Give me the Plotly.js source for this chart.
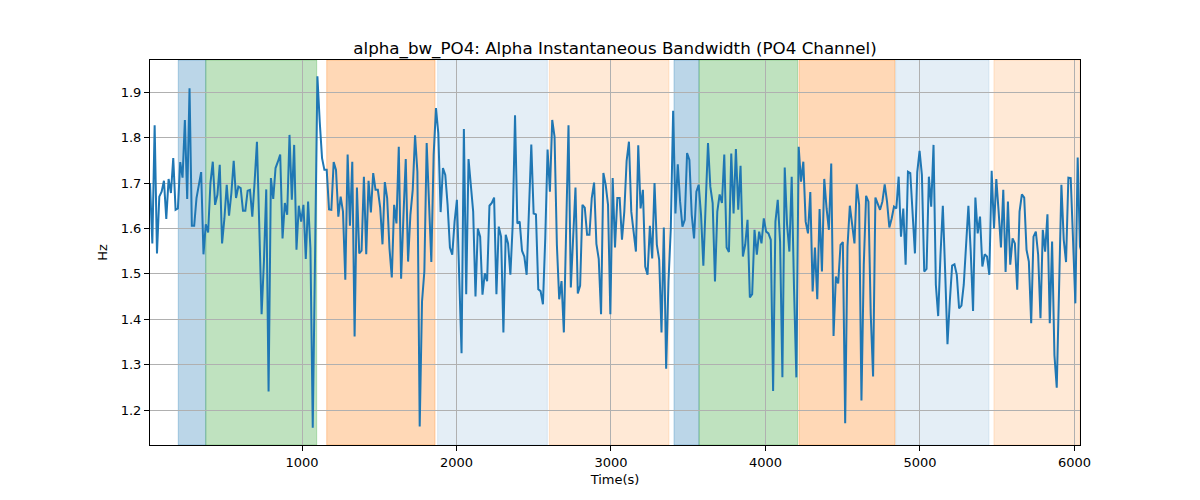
<!DOCTYPE html>
<html>
<head>
<meta charset="utf-8">
<script src="https://cdn.plot.ly/plotly-3.0.1.min.js"></script>
<style>
  html, body { margin: 0; padding: 0; background: #ffffff; }
  #plot { width: 1200px; height: 500px; }
</style>
</head>
<body>
<div id="plot"></div>
<script>
// sampling of the signal (seconds)
const SAMPLE_START = 16;
const SAMPLE_STEP = 15.05;

// alpha instantaneous bandwidth, Hz
const bandwidth = [
  1.700, 1.567, 1.827, 1.545, 1.670, 1.681, 1.705, 1.621, 1.709, 1.678,
  1.755, 1.641, 1.644, 1.746, 1.712, 1.839, 1.665, 1.909, 1.606, 1.606,
  1.667, 1.696, 1.724, 1.543, 1.609, 1.591, 1.700, 1.747, 1.652, 1.674,
  1.740, 1.567, 1.622, 1.696, 1.628, 1.678, 1.749, 1.667, 1.692, 1.689,
  1.639, 1.639, 1.683, 1.685, 1.626, 1.703, 1.791, 1.604, 1.411, 1.527,
  1.686, 1.241, 1.711, 1.665, 1.733, 1.747, 1.763, 1.578, 1.656, 1.630,
  1.806, 1.663, 1.784, 1.553, 1.650, 1.615,
  1.652, 1.533, 1.659, 1.556, 1.161, 1.542, 1.935, 1.835, 1.755, 1.729,
  1.729, 1.642, 1.641, 1.746, 1.729, 1.626, 1.670, 1.637, 1.487, 1.763,
  1.606, 1.747, 1.362, 1.690, 1.545, 1.551, 1.714, 1.543, 1.705, 1.635,
  1.722, 1.685, 1.685, 1.646, 1.565, 1.702, 1.667, 1.556, 1.492, 1.652,
  1.611, 1.780, 1.489, 1.626, 1.753, 1.527, 1.630, 1.685, 1.805, 1.725,
  1.164, 1.439, 1.505, 1.788, 1.652, 1.526, 1.762, 1.865, 1.810, 1.636,
  1.733, 1.718, 1.652, 1.558, 1.542, 1.615, 1.663, 1.512, 1.325, 1.819,
  1.455, 1.753,
  1.700, 1.637, 1.450, 1.600, 1.582, 1.454, 1.501, 1.484, 1.650, 1.656,
  1.668, 1.455, 1.604, 1.582, 1.371, 1.586, 1.567, 1.498, 1.608, 1.849,
  1.611, 1.615, 1.551, 1.538, 1.498, 1.637, 1.785, 1.633, 1.631, 1.466,
  1.462, 1.433, 1.578, 1.774, 1.681, 1.839, 1.802, 1.564, 1.444, 1.484,
  1.371, 1.600, 1.827, 1.470, 1.593, 1.690, 1.457, 1.474, 1.652, 1.646,
  1.586, 1.586, 1.667, 1.701, 1.566, 1.533, 1.411, 1.722, 1.696, 1.652,
  1.411, 1.711, 1.558, 1.667, 1.667, 1.575, 1.637, 1.749, 1.791,
  1.637, 1.593, 1.549, 1.783, 1.644, 1.685, 1.516, 1.498, 1.606, 1.534,
  1.700, 1.564, 1.531, 1.371, 1.602, 1.291, 1.483, 1.600, 1.859, 1.633,
  1.741, 1.659, 1.604, 1.619, 1.766, 1.751, 1.630, 1.578, 1.681, 1.696,
  1.630, 1.518, 1.674, 1.788, 1.692, 1.656, 1.483, 1.637, 1.675, 1.656,
  1.763, 1.558, 1.548, 1.765, 1.633, 1.775, 1.641, 1.738, 1.538, 1.564,
  1.619, 1.448, 1.455, 1.597, 1.542, 1.593, 1.567, 1.622, 1.593, 1.589,
  1.575, 1.242, 1.615, 1.663, 1.571, 1.272, 1.734, 1.609, 1.549,
  1.714, 1.468, 1.272, 1.780, 1.703, 1.747, 1.615, 1.589, 1.680, 1.461,
  1.558, 1.444, 1.643, 1.505, 1.709, 1.644, 1.597, 1.743, 1.363, 1.494,
  1.479, 1.564, 1.570, 1.171, 1.560, 1.650, 1.608, 1.567, 1.697, 1.652,
  1.221, 1.520, 1.672, 1.659, 1.410, 1.274, 1.668, 1.652, 1.641, 1.659,
  1.697, 1.659, 1.602, 1.622, 1.648, 1.644, 1.714, 1.582, 1.644, 1.520,
  1.725, 1.722, 1.637, 1.545, 1.724, 1.771, 1.718, 1.505, 1.511, 1.714,
  1.648, 1.784, 1.476, 1.407, 1.542, 1.650, 1.505, 1.345, 1.439,
  1.518, 1.521, 1.498, 1.424, 1.430, 1.476, 1.567, 1.650, 1.549, 1.418,
  1.668, 1.589, 1.626, 1.516, 1.543, 1.538, 1.498, 1.727, 1.600, 1.709,
  1.637, 1.558, 1.685, 1.504, 1.659, 1.520, 1.578, 1.567, 1.465, 1.637,
  1.675, 1.668, 1.553, 1.527, 1.391, 1.582, 1.593, 1.542, 1.402, 1.597,
  1.549, 1.631, 1.391, 1.571, 1.321, 1.249, 1.468, 1.696, 1.575, 1.526,
  1.712, 1.711, 1.575, 1.435, 1.756, 1.560, 1.542,
];

// shaded segments
const spanStart = [199, 377, 1160, 1878, 2601, 3408, 3570, 4217, 4843, 5479];
const spanEnd   = [377, 1095, 1861, 2588, 3375, 3570, 4208, 4838, 5447, 6036];
const spanColor = [
  "rgba(31,119,180,0.3)",
  "rgba(44,160,44,0.3)",
  "rgba(255,127,14,0.3)",
  "rgba(31,119,180,0.12)",
  "rgba(255,127,14,0.17)",
  "rgba(31,119,180,0.3)",
  "rgba(44,160,44,0.3)",
  "rgba(255,127,14,0.3)",
  "rgba(31,119,180,0.12)",
  "rgba(255,127,14,0.17)",
];

const xTicks = [1000, 2000, 3000, 4000, 5000, 6000];
const yTicks = [1.2, 1.3, 1.4, 1.5, 1.6, 1.7, 1.8, 1.9];

const times = bandwidth.map((_, i) => SAMPLE_START + i * SAMPLE_STEP);

const trace = {
  type: "scatter",
  mode: "lines",
  x: times,
  y: bandwidth,
  line: { color: "#1f77b4", width: 2 },
  hoverinfo: "x+y",
};

const shapes = spanStart.map((s, i) => ({
  type: "rect",
  xref: "x",
  yref: "paper",
  x0: s,
  x1: spanEnd[i],
  y0: 0,
  y1: 1,
  fillcolor: spanColor[i],
  line: { color: spanColor[i], width: 1 },
  layer: "below",
}));

const axisCommon = {
  showline: true,
  mirror: true,
  linecolor: "#000000",
  linewidth: 1,
  ticks: "outside",
  ticklen: 5,
  tickwidth: 1,
  tickcolor: "#000000",
  showgrid: true,
  gridcolor: "#b0b0b0",
  gridwidth: 1,
  zeroline: false,
  tickfont: { family: "DejaVu Sans", size: 13, color: "#000000" },
};

const layout = {
  width: 1200,
  height: 500,
  paper_bgcolor: "#ffffff",
  plot_bgcolor: "#ffffff",
  margin: { l: 150, r: 120, t: 60, b: 55 },
  showlegend: false,
  title: {
    text: "alpha_bw_PO4: Alpha Instantaneous Bandwidth (PO4 Channel)",
    font: { family: "DejaVu Sans", size: 16.7, color: "#000000" },
    x: 0.5,
    xref: "paper",
    y: 1,
    yref: "paper",
    yanchor: "bottom",
    pad: { b: 6 },
  },
  xaxis: {
    ...axisCommon,
    range: [16, 6036],
    tickvals: xTicks,
    ticktext: xTicks.map(String),
    title: { text: "Time(s)", font: { family: "DejaVu Sans", size: 13, color: "#000000" }, standoff: 6 },
  },
  yaxis: {
    ...axisCommon,
    range: [1.123, 1.971],
    tickvals: yTicks,
    ticktext: yTicks.map((v) => v.toFixed(1)),
    title: { text: "Hz", font: { family: "DejaVu Sans", size: 13, color: "#000000" }, standoff: 10 },
  },
  shapes,
};

Plotly.newPlot("plot", [trace], layout, { displayModeBar: false, responsive: false });
</script>
</body>
</html>
